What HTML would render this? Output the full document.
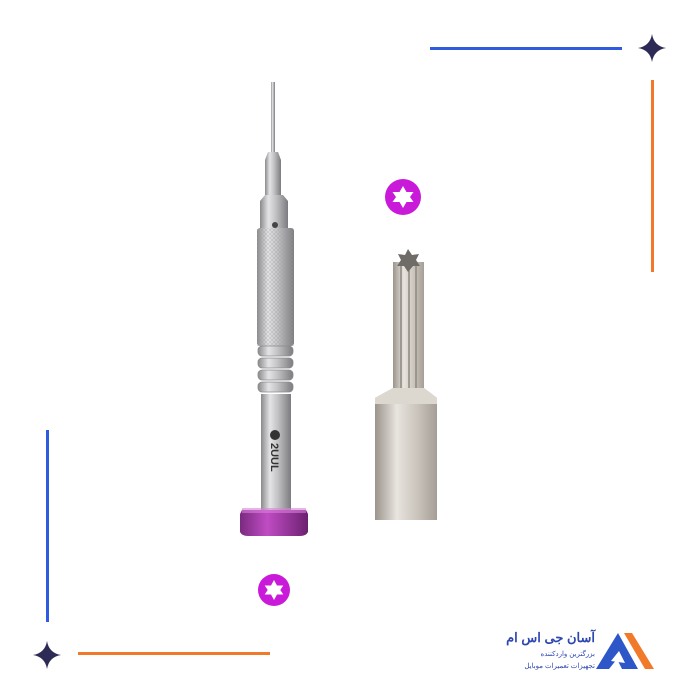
<!DOCTYPE html>
<html><head><meta charset="utf-8"><style>
body{margin:0;background:#fff;width:700px;height:700px;overflow:hidden;position:relative;font-family:"Liberation Sans","Noto Sans CJK SC",sans-serif}
.a{position:absolute;white-space:nowrap}
</style></head><body>
<svg class="a" style="left:0;top:0" width="700" height="700" viewBox="0 0 700 700">
<defs>
<linearGradient id="m" x1="0" x2="1"><stop offset="0" stop-color="#8a8a8c"/><stop offset=".3" stop-color="#e4e4e6"/><stop offset=".55" stop-color="#c4c4c6"/><stop offset="1" stop-color="#7c7c80"/></linearGradient>
<linearGradient id="b" x1="0" x2="1"><stop offset="0" stop-color="#9a948c"/><stop offset=".35" stop-color="#e8e4de"/><stop offset=".7" stop-color="#c8c2ba"/><stop offset="1" stop-color="#a49e96"/></linearGradient>
<linearGradient id="p" x1="0" x2="1"><stop offset="0" stop-color="#7a2a80"/><stop offset=".4" stop-color="#c04cc4"/><stop offset="1" stop-color="#6c2070"/></linearGradient>
<pattern id="k" width="4" height="4" patternUnits="userSpaceOnUse"><path d="M0 4L4 0M0 0L4 4" stroke="#999" stroke-width=".5"/></pattern>
</defs>
<rect x="430" y="47" width="192" height="3" fill="#2f5be0"/>
<rect x="651" y="80" width="3" height="192" fill="#f07a2a"/>
<rect x="46" y="430" width="3" height="192" fill="#2f5be0"/>
<rect x="78" y="652" width="192" height="3" fill="#f07a2a"/>
<path d="M652 34Q654 46 666 48Q654 50 652 62Q650 50 638 48Q650 46 652 34Z" fill="#2d2b55"/>
<path d="M47 641Q49 653 61 655Q49 657 47 669Q45 657 33 655Q45 653 47 641Z" fill="#2d2b55"/>
<!-- screwdriver -->
<rect x="271" y="82" width="4" height="70" fill="url(#m)"/>
<path d="M268 152h10l3 8v38h-16v-38z" fill="url(#m)"/>
<path d="M265 195h18l5 6v30h-28v-30z" fill="url(#m)"/>
<rect x="257" y="228" width="37" height="118" rx="3" fill="url(#m)"/>
<rect x="257" y="228" width="37" height="118" fill="url(#k)" opacity=".6"/>
<g fill="url(#m)" stroke="#8a8a8c" stroke-width=".8">
<rect x="258" y="346" width="35" height="10" rx="4"/><rect x="258" y="358" width="35" height="10" rx="4"/><rect x="258" y="370" width="35" height="10" rx="4"/><rect x="258" y="382" width="35" height="10" rx="4"/>
</g>
<rect x="261" y="394" width="30" height="116" fill="url(#m)"/>
<circle cx="275" cy="225" r="3" fill="#444"/>
<circle cx="275" cy="435" r="5" fill="#333"/>
<text x="0" y="0" transform="translate(271 443) rotate(90)" font-size="11" font-weight="bold" fill="#333" font-family="Liberation Sans,sans-serif">2UUL</text>
<path d="M242 510h64l2 4v18q-2 4-8 4h-52q-6 0-8-4v-18z" fill="url(#p)"/>
<rect x="242" y="508" width="64" height="5" fill="#d880d8" opacity=".6"/>
<!-- bit -->
<rect x="393" y="262" width="31" height="140" fill="url(#b)"/>
<g stroke="#8e887f" stroke-width="1.5"><line x1="401" y1="265" x2="401" y2="390"/><line x1="409" y1="265" x2="409" y2="392"/><line x1="416" y1="265" x2="416" y2="390"/></g>
<path d="M408 249l4 6 7-1-3 6 4 6-7 0-5 6-4-6-7 0 4-6-3-6 7 1z" fill="#6f6b66"/>
<path d="M393 388l-18 10v122h62v-122l-13-10z" fill="url(#b)"/>
<path d="M375 398l18-10h31l13 10v6h-62z" fill="#dcd7cf"/>
<circle cx="403" cy="197" r="18" fill="#c81ad8"/>
<path d="M403 186l3.5 6h7l-3.5 5 3.5 5h-7l-3.5 6-3.5-6h-7l3.5-5-3.5-5h7z" fill="#fff"/>
<circle cx="274" cy="590" r="16" fill="#c81ad8"/>
<path d="M274 580l3 5.5h6.3l-3 4.5 3 4.5h-6.3l-3 5.5-3-5.5h-6.3l3-4.5-3-4.5h6.3z" fill="#fff"/>
<!-- logo -->
<path d="M618 633l-22 36h13l8-10 5 10h16z" fill="#2d56c8"/>
<path d="M624 633l8 0 22 36h-9z" fill="#f07a2a"/>
<path d="M611 661l8-10 6 12z" fill="#fff"/>
</svg>
<div class="a" style="left:480px;top:630px;width:115px;text-align:right;font-size:13px;font-weight:bold;color:#2d46b0;direction:rtl">آسان جی اس ام</div>
<div class="a" style="left:480px;top:650px;width:115px;text-align:right;font-size:7px;color:#2d46b0;direction:rtl">بزرگترین واردکننده</div>
<div class="a" style="left:480px;top:662px;width:115px;text-align:right;font-size:7px;color:#2d46b0;direction:rtl">تجهیزات تعمیرات موبایل</div>
</body></html>
